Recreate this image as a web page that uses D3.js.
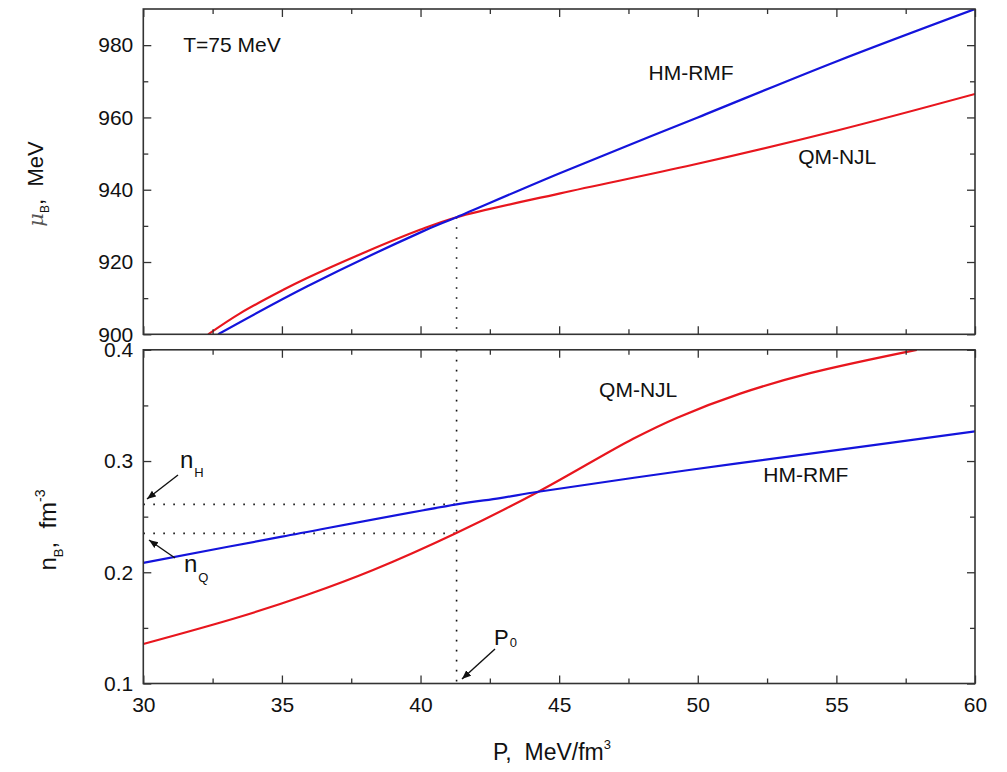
<!DOCTYPE html>
<html>
<head>
<meta charset="utf-8">
<script src="https://cdn.jsdelivr.net/npm/d3@7"></script>
<style>
body{margin:0;background:#fff;}
svg text{font-family:"Liberation Sans",Arial,sans-serif;fill:#111;white-space:pre;}
</style>
</head>
<body>
<svg id="chart" width="1007" height="772"></svg>
<script>
// ---- data ----
const hmTopP  = [32.7, 35.9, 40.0, 41.3, 45.0, 50.0, 55.0, 60.0];
const hmTopMu = [900, 913.2, 928.2, 932.4, 944.5, 960.0, 975.5, 990.0];
const qmTopP  = [32.34, 33.49, 35.05, 35.89, 38.06, 39.98, 41.3, 45.04, 49.83, 55.03, 60];
const qmTopMu = [900, 905.8, 912.3, 915.5, 922.9, 928.9, 932.4, 939.0, 946.9, 956.4, 966.5];
const hmBotP  = [30, 35, 41.3, 42.87, 44.25, 49.62, 55, 60];
const hmBotN  = [0.2085, 0.232, 0.261, 0.2667, 0.2724, 0.2917, 0.3098, 0.3266];
const qmBotP  = [30, 33.49, 35.89, 38.29, 41.31, 44.25, 47.67, 49.26, 51.53, 54.05, 57.9];
const qmBotN  = [0.1355, 0.160, 0.1795, 0.202, 0.2355, 0.2724, 0.320, 0.339, 0.3606, 0.379, 0.400];
const xTicks = [30, 35, 40, 45, 50, 55, 60];
const muTicks = [900, 920, 940, 960, 980];
const nTicks = [0.1, 0.2, 0.3, 0.4];
const P0 = 41.3, muCross = 932.4, nH = 0.261, nQ = 0.235;

const red = "#e8161e", blue = "#1414dc", axisCol = "#333";
const svg = d3.select("#chart");

const x = d3.scaleLinear().domain([30, 60]).range([143.3, 975]);
const yTop = d3.scaleLinear().domain([900, 990]).range([334.3, 9]);
const yBot = d3.scaleLinear().domain([0.1, 0.4]).range([683.5, 349.8]);

function styleAxis(g){
  g.select(".domain").remove();
  g.selectAll(".tick line").attr("stroke", axisCol).attr("stroke-width", 1.3);
  g.selectAll(".tick text").style("font-size","21px").attr("fill","#111")
    .style("font-family",'"Liberation Sans",Arial,sans-serif');
}
function panelAxes(y, yT, yMinor, labelsFmt){
  const [y0, y1] = y.range();
  svg.append("g").attr("transform",`translate(0,${y0})`)
    .call(d3.axisBottom(x).tickValues(xTicks).tickSize(-8).tickPadding(14).tickFormat(labelsFmt ? d3.format("d") : ""))
    .call(styleAxis);
  svg.append("g").attr("transform",`translate(0,${y0})`)
    .call(d3.axisBottom(x).tickValues(d3.range(32.5,60,5)).tickSize(-5).tickFormat(""))
    .call(styleAxis);
  svg.append("g").attr("transform",`translate(0,${y1})`)
    .call(d3.axisTop(x).tickValues(xTicks).tickSize(-8).tickFormat(""))
    .call(styleAxis);
  svg.append("g").attr("transform",`translate(0,${y1})`)
    .call(d3.axisTop(x).tickValues(d3.range(32.5,60,5)).tickSize(-5).tickFormat(""))
    .call(styleAxis);
  svg.append("g").attr("transform",`translate(${x.range()[0]},0)`)
    .call(d3.axisLeft(y).tickValues(yT).tickSize(-8).tickPadding(10).tickFormat(y===yTop?d3.format("d"):d3.format(".1f")))
    .call(styleAxis);
  svg.append("g").attr("transform",`translate(${x.range()[0]},0)`)
    .call(d3.axisLeft(y).tickValues(yMinor).tickSize(-5).tickFormat(""))
    .call(styleAxis);
  svg.append("g").attr("transform",`translate(${x.range()[1]},0)`)
    .call(d3.axisRight(y).tickValues(yT).tickSize(-8).tickFormat(""))
    .call(styleAxis);
  svg.append("g").attr("transform",`translate(${x.range()[1]},0)`)
    .call(d3.axisRight(y).tickValues(yMinor).tickSize(-5).tickFormat(""))
    .call(styleAxis);
  svg.append("rect").attr("x",x.range()[0]).attr("y",y1)
    .attr("width",x.range()[1]-x.range()[0]).attr("height",y0-y1)
    .attr("fill","none").attr("stroke",axisCol).attr("stroke-width",1.6);
}

const defs = svg.append("defs");
defs.append("clipPath").attr("id","clipTop").append("rect")
  .attr("x",x.range()[0]).attr("y",yTop.range()[1]).attr("width",x.range()[1]-x.range()[0]).attr("height",yTop.range()[0]-yTop.range()[1]);
defs.append("clipPath").attr("id","clipBot").append("rect")
  .attr("x",x.range()[0]).attr("y",yBot.range()[1]).attr("width",x.range()[1]-x.range()[0]).attr("height",yBot.range()[0]-yBot.range()[1]);
const mk = defs.append("marker").attr("id","arr").attr("viewBox","0 0 10 10").attr("refX",10).attr("refY",5)
  .attr("markerWidth",9).attr("markerHeight",9).attr("markerUnits","userSpaceOnUse").attr("orient","auto");
mk.append("path").attr("d","M0,1 L10,5 L0,9 Z").attr("fill","#111");

const dot = {stroke:"#111","stroke-width":1.6,"stroke-dasharray":"1.6,8.4","stroke-linecap":"butt"};
function dotted(x1,y1,x2,y2){
  const l = svg.append("line").attr("x1",x1).attr("y1",y1).attr("x2",x2).attr("y2",y2);
  Object.entries(dot).forEach(([k,v])=>l.attr(k,v));
}
dotted(x(P0), yTop(muCross), x(P0), yTop(900));
dotted(x(P0), yBot(0.4), x(P0), yBot(0.1));
dotted(x(30), yBot(nH), x(P0), yBot(nH));
dotted(x(30), yBot(nQ), x(P0), yBot(nQ));

const lineTop = d3.line().x(d=>x(d[0])).y(d=>yTop(d[1])).curve(d3.curveCatmullRom.alpha(0.5));
const lineBot = d3.line().x(d=>x(d[0])).y(d=>yBot(d[1])).curve(d3.curveCatmullRom.alpha(0.5));
const gT = svg.append("g").attr("clip-path","url(#clipTop)");
const gB = svg.append("g").attr("clip-path","url(#clipBot)");
gT.append("path").attr("d",lineTop(d3.zip(qmTopP,qmTopMu))).attr("fill","none").attr("stroke",red).attr("stroke-width",2.2);
gT.append("path").attr("d",lineTop(d3.zip(hmTopP,hmTopMu))).attr("fill","none").attr("stroke",blue).attr("stroke-width",2.2);
gB.append("path").attr("d",lineBot(d3.zip(qmBotP,qmBotN))).attr("fill","none").attr("stroke",red).attr("stroke-width",2.2);
gB.append("path").attr("d",lineBot(d3.zip(hmBotP,hmBotN))).attr("fill","none").attr("stroke",blue).attr("stroke-width",2.2);

panelAxes(yTop, muTicks, [910,930,950,970], false);
panelAxes(yBot, nTicks, [0.15,0.25,0.35], true);

function label(txt, px, py, anchor){
  svg.append("text").attr("x",px).attr("y",py).attr("text-anchor",anchor||"middle")
    .style("font-size","21px").text(txt);
}
label("T=75 MeV", x(31.44), yTop(978.1), "start");
label("HM-RMF", x(49.76), yTop(970.4));
label("QM-NJL", x(55.03), yTop(947.1));
label("QM-NJL", x(47.85), yBot(0.3576));
label("HM-RMF", x(53.9), yBot(0.2811));

function subLabel(main, sub, px, py, size, subDy){
  const t = svg.append("text").attr("x",px).attr("y",py).style("font-size",size+"px");
  t.append("tspan").text(main);
  t.append("tspan").attr("dx",1).attr("dy",subDy).style("font-size","13px").text(sub);
}
subLabel("n","H", 180, 468, 24, 9);
subLabel("n","Q", 184, 572, 24, 10);
subLabel("P","0", 494, 645, 22, 2);
function arrow(x1,y1,x2,y2){
  svg.append("line").attr("x1",x1).attr("y1",y1).attr("x2",x2).attr("y2",y2)
    .attr("stroke","#111").attr("stroke-width",1.4).attr("marker-end","url(#arr)");
}
arrow(178,475,147,499);
arrow(175,558,149,540);
arrow(495,649,462,679);

const tt = svg.append("text").attr("transform","translate(43,184) rotate(-90)").attr("text-anchor","middle").style("font-size","22px");
tt.append("tspan").style("font-style","italic").style("fill","#555").style("font-family","'DejaVu Serif',serif").style("font-size","21px").text("μ");
tt.append("tspan").attr("dy",6).style("font-size","12px").text("B");
tt.append("tspan").attr("dy",-6).text(",\u00a0\u00a0MeV");

const tb = svg.append("text").attr("transform","translate(56,530) rotate(-90)").attr("text-anchor","middle").style("font-size","24px");
tb.append("tspan").text("n");
tb.append("tspan").attr("dy",7).style("font-size","13px").text("B");
tb.append("tspan").attr("dy",-7).text(",\u00a0\u00a0fm");
tb.append("tspan").attr("dy",-11).style("font-size","14px").text("-3");

const tx = svg.append("text").attr("x",552).attr("y",760).attr("text-anchor","middle").style("font-size","23px");
tx.append("tspan").text("P,\u00a0\u00a0MeV/fm");
tx.append("tspan").attr("dy",-11).style("font-size","13px").text("3");
</script>
</body>
</html>
